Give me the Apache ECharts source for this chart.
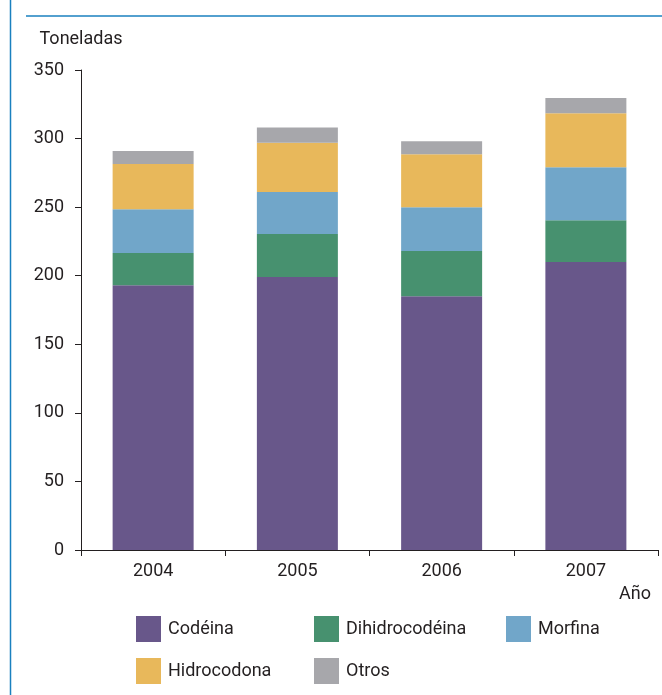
<!DOCTYPE html>
<html>
<head>
<meta charset="utf-8">
<script src="https://cdn.jsdelivr.net/npm/echarts@6/dist/echarts.min.js"></script>
<style>
  html, body { margin: 0; padding: 0; background: #fff; }
  #chart { width: 662px; height: 695px; }
</style>
</head>
<body>
<div id="chart"></div>
<script>
var years = ['2004', '2005', '2006', '2007'];
var codeina = [193, 199, 185, 210];
var dihidrocodeina = [23.5, 31.5, 33, 30.5];
var morfina = [32, 30.5, 32, 38.5];
var hidrocodona = [33, 36, 38.5, 39.5];
var otros = [9.5, 11, 9.5, 11];

var font = '"Liberation Sans Narrow", "Roboto", sans-serif';
var colors = ['#68578a', '#47916f', '#71a6c9', '#e8b85b', '#a7a7ab'];
var names = ['Codéina', 'Dihidrocodéina', 'Morfina', 'Hidrocodona', 'Otros'];
var values = [codeina, dihidrocodeina, morfina, hidrocodona, otros];
// posiciones de la leyenda (izquierda, arriba)
var legendPos = [[136, 616], [314, 616], [506, 616], [136, 658], [314, 658]];

var myChart = echarts.init(document.getElementById('chart'));

var option = {
  animation: false,
  color: colors,
  textStyle: { fontFamily: font },
  grid: { left: 81, right: 4, top: 70, bottom: 145 },
  title: {
    text: 'Año',
    right: 6,
    top: 580,
    textStyle: { fontFamily: font, fontSize: 18, fontWeight: 'normal', color: '#231f20' }
  },
  legend: names.map(function (n, i) {
    return {
      data: [n],
      left: legendPos[i][0],
      top: legendPos[i][1],
      itemWidth: 25,
      itemHeight: 26,
      itemGap: 0,
      padding: 0,
      selectedMode: false,
      icon: 'rect',
      textStyle: { fontFamily: font, fontSize: 18, color: '#231f20', padding: [0, 0, 0, 2] }
    };
  }),
  xAxis: {
    type: 'category',
    data: years,
    axisLine: { lineStyle: { color: '#231f20', width: 1 } },
    axisTick: { show: true, length: 6, lineStyle: { color: '#231f20' } },
    axisLabel: { fontSize: 18, color: '#231f20', margin: 12, fontFamily: font }
  },
  yAxis: {
    type: 'value',
    min: 0,
    max: 350,
    interval: 50,
    name: 'Toneladas',
    nameGap: 22,
    nameTextStyle: { fontSize: 18, color: '#231f20', fontFamily: font },
    splitLine: { show: false },
    axisLine: { show: true, lineStyle: { color: '#231f20', width: 1 } },
    axisTick: { show: true, length: 6, lineStyle: { color: '#231f20' } },
    axisLabel: { fontSize: 18, color: '#231f20', margin: 17, fontFamily: font }
  },
  series: names.map(function (n, i) {
    return {
      name: n,
      type: 'bar',
      stack: 'total',
      barWidth: 81,
      data: values[i],
      itemStyle: { color: colors[i] }
    };
  }),
  graphic: [
    { type: 'line', shape: { x1: 10.5, y1: 0, x2: 10.5, y2: 695 }, style: { stroke: '#1a80bf', lineWidth: 1.5 } },
    { type: 'line', shape: { x1: 26, y1: 16, x2: 662, y2: 16 }, style: { stroke: '#1a80bf', lineWidth: 1.5 } }
  ]
};

myChart.setOption(option);
</script>
</body>
</html>
